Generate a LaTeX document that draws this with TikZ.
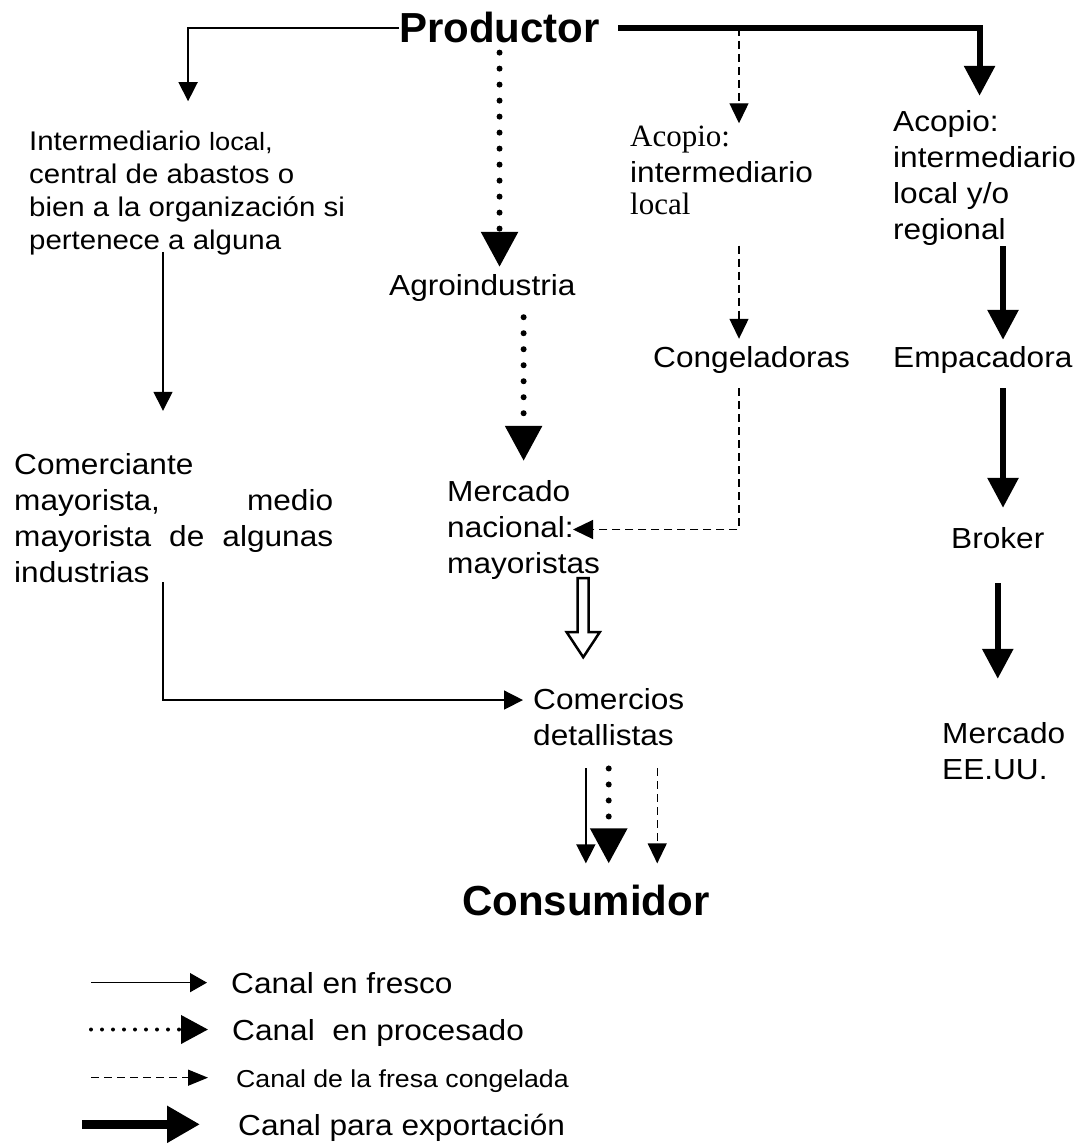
\documentclass[tikz,border=0pt]{standalone}
\usepackage{fontspec}
\setmainfont{Liberation Sans}[FakeStretch=1.09]
\newfontfamily\titlefont{Liberation Sans}
\newfontfamily\timesfont{Liberation Serif}
\usetikzlibrary{arrows.meta}

\tikzset{
  txt/.style={anchor=base west, inner sep=0pt, align=left,
    font=\fontsize{29}{36}\selectfont},
  small/.style={font=\fontsize{27}{33}\selectfont},
  title/.style={anchor=base west, inner sep=0pt,
    font=\titlefont\bfseries\fontsize{42}{48}\selectfont},
  fresh/.style={line width=1.5pt, -{Triangle[length=19pt,width=19pt]}},
  proc/.style={line width=6pt, line cap=round, dash pattern=on 0pt off 16pt,
    -{Triangle[length=35pt,width=36pt]}},
  frozen/.style={line width=1.3pt, dash pattern=on 8pt off 5pt,
    -{Triangle[length=20pt,width=19pt]}},
  export/.style={line width=6pt, -{Triangle[length=30pt,width=30pt]}},
  hollow/.style={line width=2.5pt, fill=white, line join=miter}
}

\begin{document}
\begin{tikzpicture}[x=1pt,y=-1pt]
  \useasboundingbox (0,0) rectangle (1090,1147);
  % columns of the channels
  \coordinate (fr) at (163,0);
  \coordinate (fz) at (739,0);
  \coordinate (ex) at (1003,0);

  % nodes sit on the baseline of their last line
  \node[title] (prod) at (399,43) {Productor};
  \node[txt,small] (inter) at (29,250) {Intermediario {\fontsize{25}{33}\selectfont local,}\\
    central de abastos o\\bien a la organización si\\pertenece a alguna};
  \node[txt] (agro) at (389,295) {Agroindustria};
  \node[txt] (acop1) at (630,215) {{\timesfont\fontsize{31}{36}\selectfont Acopio:}\\
    intermediario\\[-4pt]{\timesfont\fontsize{31}{36}\selectfont local}};
  \node[txt] (acop2) at (893,240) {Acopio:\\intermediario\\local y/o\\regional};
  \node[txt] (cong) at (653,367) {Congeladoras};
  \node[txt] (empa) at (893,367) {Empacadora};
  \node[txt] (comer) at (14,582) {Comerciante\\
    \makebox[319pt][s]{mayorista, medio}\\
    \makebox[319pt][s]{mayorista de algunas}\\industrias};
  \node[txt] (merc) at (447,573) {Mercado\\nacional:\\mayoristas};
  \node[txt] (broker) at (951,548) {Broker};
  \node[txt] (comd) at (533,745) {Comercios\\detallistas};
  \node[txt] (usa) at (942,779) {Mercado\\EE.UU.};
  \node[title] (cons) at (462,915) {Consumidor};
  \coordinate (nac) at ([xshift=126pt]merc.west);
  \coordinate (cw) at ([yshift=16.6pt]comd.west);

  % fresco
  \draw[fresh, shorten >=30pt] (prod.west) -| ([xshift=1pt]inter.north);
  \draw[fresh, shorten <=-4pt, shorten >=42pt] (fr |- inter.south) -- (fr |- comer.north);
  \draw[fresh, shorten >=10pt] (fr |- comer.south) -- (fr |- cw) -- (cw);
  \draw[fresh, shorten <=23pt, shorten >=21pt] (comd.south -| cons.north) -- (cons.north);

  % procesado
  \draw[proc, shorten <=9pt, shorten >=7pt] (prod.south) -- (prod.south |- agro.north);
  \draw[proc, shorten <=16pt, shorten >=19pt] (agro.south -| merc.north) -- (merc.north);
  \draw[proc, shorten <=23pt, shorten >=21pt] (comd.south) -- (comd.south |- cons.north);
  \draw[hollow] ([xshift=-22.5pt,yshift=1pt]merc.south east) -- ++(0,54) -- ++(-11,0)
    -- ++(16.5,25) -- ++(16.5,-25) -- ++(-11,0) -- ++(0,-54) -- cycle;

  % congelada
  \draw[frozen, shorten >=3pt] (fz |- prod.east) -- (fz |- acop1.north);
  \draw[frozen, shorten <=30pt, shorten >=7pt] (fz |- acop1.south) -- (fz |- cong.north);
  \draw[frozen, shorten <=15pt] (fz |- cong.south) -- (fz |- nac) -- (nac);
  \draw[frozen, shorten <=23pt, shorten >=21pt] ([xshift=48.5pt]comd.south)
    -- ([xshift=48.5pt]comd.south |- cons.north);

  % exportacion
  \draw[export, shorten <=18pt, shorten >=15pt] (prod.east) -| ([xshift=-5pt]acop2.north);
  \draw[export, shorten >=6pt] (ex |- acop2.south) -- (ex |- empa.north);
  \draw[export, shorten <=15pt, shorten >=19pt] (ex |- empa.south) -- (ex |- broker.north);
  \draw[export, shorten <=35pt, shorten >=43pt] (broker.south) -- (broker.south |- usa.north);

  % leyenda
  \node[txt] (lg1) at (231,993) {Canal en fresco};
  \node[txt] (lg2) at (232,1040) {Canal\ \ en procesado};
  \node[txt, font=\fontsize{24.5}{30}\selectfont] (lg3) at (236,1087) {Canal de la fresa congelada};
  \node[txt] (lg4) at (238,1135) {Canal para exportación};
  \draw[fresh, -{Triangle[length=17pt,width=19pt]}] ([xshift=-140pt]lg1.west) -- ([xshift=-24pt]lg1.west);
  \draw[proc, line width=4pt, dash pattern=on 0pt off 11pt, -{Triangle[length=27pt,width=28pt]}]
    ([xshift=-141pt,yshift=3pt]lg2.west) -- ([xshift=-24pt,yshift=3pt]lg2.west);
  \draw[frozen, -{Triangle[length=20pt,width=16pt]}] ([xshift=-145pt,yshift=3pt]lg3.west)
    -- ([xshift=-28pt,yshift=3pt]lg3.west);
  \draw[export, line width=9pt, -{Triangle[length=33pt,width=35pt]}]
    ([xshift=-156pt,yshift=3pt]lg4.west) -- ([xshift=-38pt,yshift=3pt]lg4.west);
\end{tikzpicture}
\end{document}
